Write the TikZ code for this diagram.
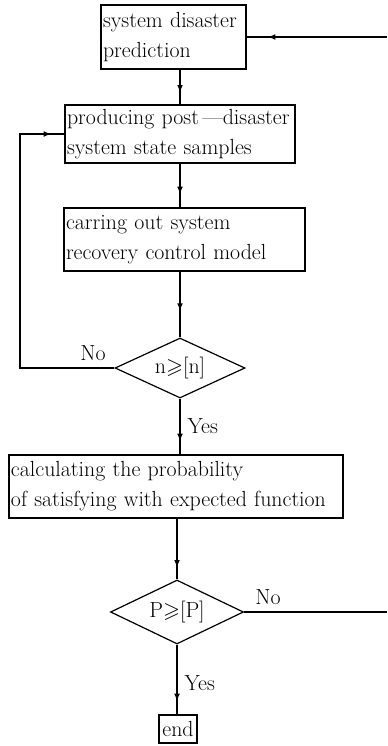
\documentclass[tikz,border=0pt]{standalone}
\usepackage{amsmath,amssymb}
\usepackage{tikz}
\usetikzlibrary{positioning}
\usetikzlibrary{arrows}
\usetikzlibrary{shapes.geometric}
\usetikzlibrary{decorations.markings}
\usetikzlibrary{calc}

\begin{document}
\begin{tikzpicture}[x=0.75pt, y=-0.75pt,
    %Option for small arrows sitting on the lines
    >=latex, %
    line width=0.9pt,%
    font=\fontsize{16.4}{22.5}\selectfont,
    box/.style={draw, align=left, text width=#1, inner xsep=1.5pt, inner ysep=0pt},
    test/.style={draw, diamond, inner sep=0pt, aspect=2.2},
    flow/.style={postaction={decorate},
        decoration={markings, mark=at position -#1 with {\arrow{>}}}},
    flow/.default=9pt,
]
    \useasboundingbox (0,0) rectangle (387,746);

    % Boxes
    \node[box=105.75pt, minimum height=48pt]    (predict)  at (173.5,37)  {system disaster\\prediction};
    \node[box=169.5pt,  minimum height=43.5pt]  (samples)  at (180,134)   {\mbox{producing post\,---disaster}\\system state samples};
    \node[box=177.75pt, minimum height=47.25pt] (recovery) at (184.5,239.5) {carring out system\\recovery control model};
    \node[test, minimum width=97.5pt, minimum height=45pt] (ntest) at (180,368) {n$\geqslant$[n]};
    \node[box=247.5pt,  minimum height=47.25pt] (prob)     at (176,486.5) {calculating the probability\\of satisfying with expected function};
    \node[test, minimum width=99.75pt, minimum height=48pt] (ptest) at (177,612) {P$\geqslant$[P]};
    \node[box=25.5pt, minimum height=21pt, align=center] (stop) at (178,729) {end};

    % Free ends
    \coordinate (topright) at (387,37);
    \coordinate (botright) at (387,612);
    \coordinate (loopleft) at (20,0);

    % Main flow
    \draw[flow] (predict.south -| samples.north) -- (samples.north);
    \draw[flow=10pt] (samples.south) -- (samples.south |- recovery.north);
    \draw[flow=20pt] (recovery.south -| ntest.north) -- (ntest.north);
    \draw[flow=10pt] (ntest.south) -- (ntest.south |- prob.north)
        node [pos=0.5, right=2pt] {Yes};
    \draw[flow] (prob.south -| ptest.north) -- (ptest.north);
    \draw[flow=10pt] (ptest.south) -- (ptest.south |- stop.north)
        node [pos=0.55, right=2pt] {Yes};

    %Loop back for new samples
    \draw[flow=10pt] (ntest.west) -- (ntest.west -| loopleft) |- (samples.west);
    \node (nolab) at (93,353) {No};

    %Lines on the right
    \draw[flow=16pt] (topright) -- (predict.east);
    \draw (ptest.east) -- (botright);
    \node (nolabp) at (268,597) {No};
\end{tikzpicture}
\end{document}
